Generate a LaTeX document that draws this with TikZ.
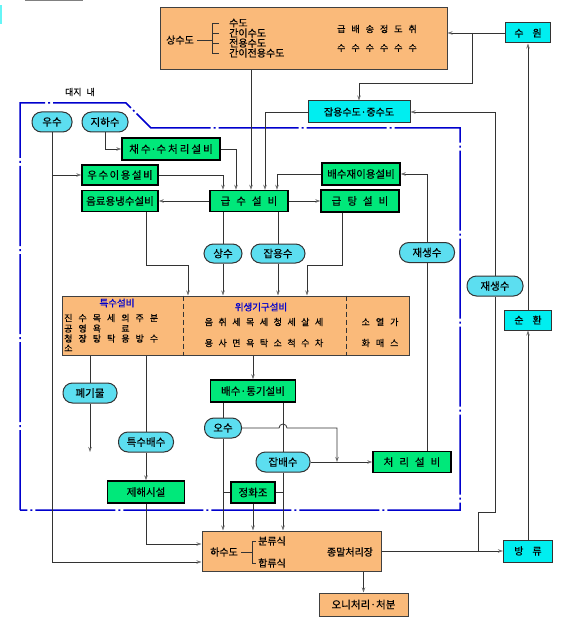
\documentclass[tikz,border=0pt]{standalone}
\usepackage{fontspec}
\usepackage{xcolor}
\usepackage{tikz}
\usetikzlibrary{positioning,arrows.meta}
\newfontfamily\kr[FakeBold=0.4]{Noto Sans CJK KR}
\definecolor{boxorange}{RGB}{250,186,122}
\definecolor{boxgreen}{RGB}{0,232,122}
\definecolor{boxcyan}{RGB}{0,238,240}
\definecolor{pillcyan}{RGB}{92,222,240}
\definecolor{siteblue}{RGB}{0,0,205}
\definecolor{tipgray}{RGB}{110,110,110}
\newcommand\gp[1][6pt]{\hspace{#1}}
\tikzset{
  every node/.style={font=\kr\fontsize{10.5}{12}\selectfont},
  orangebox/.style={draw=black!75,line width=1pt,fill=boxorange,inner sep=0pt},
  greenbox/.style={draw=black,line width=1.4pt,fill=boxgreen,inner sep=0pt,minimum height=21pt},
  cyanbox/.style={draw=black!80,line width=1pt,fill=boxcyan,inner sep=0pt,minimum height=20pt,font=\kr\fontsize{10}{12}\selectfont},
  pill/.style={draw=black!80,line width=1pt,fill=pillcyan,rounded corners=9.5pt,inner sep=0pt,minimum height=20pt},
  itemtext/.style={font=\kr\fontsize{10}{12}\selectfont,inner sep=0pt},
  rowtext/.style={font=\kr\fontsize{9}{10}\selectfont,inner sep=0pt},
  headtext/.style={font=\kr\fontsize{9.5}{11}\selectfont,text=siteblue,inner sep=0pt},
  conn/.style={draw=black!80,line width=0.8pt},
  arr/.style={conn,-{Stealth[length=5pt,width=3.5pt,color=tipgray]}},
  siteline/.style={draw=siteblue,line width=1.5pt,dash pattern=on 80pt off 3pt on 2pt off 3pt},
}
\begin{document}
\begin{tikzpicture}[x=1pt,y=-1pt]
  \useasboundingbox (0,0) rectangle (567,631);
  \fill[boxcyan!60] (0,5) rectangle (2,24);
  \draw[gray,line width=1pt] (25,0.5) -- (83,0.5);
  % site boundary
  \draw[siteline] (20,510) -- (20,103) -- (126,103) -- (151,128) -- (460,128) -- (460,510) -- cycle;
  \node[rowtext] (site) at (80,92) {대지\gp[5pt]내};

  % water supply
  \node[orangebox,minimum width=287pt,minimum height=62pt] (supply) at (303.5,39) {};
  \node[itemtext] (sdn) at (180,40) {상수도};
  \node[itemtext,anchor=west] (sd1) at (229,23) {수도};
  \node[itemtext,anchor=west] (sd2) at (229,33) {간이수도};
  \node[itemtext,anchor=west] (sd3) at (229,43) {전용수도};
  \node[itemtext,anchor=west] (sd4) at (229,53) {간이전용수도};
  \draw[conn] (197,40) -- (212,40) (219,23) -- (212,23) -- (212,53) -- (219,53) (212,33) -- (219,33) (212,43) -- (219,43);
  \node[rowtext] (st1) at (377,29) {급\gp 배\gp 송\gp 정\gp 도\gp 취};
  \node[rowtext] (st2) at (377,48) {수\gp 수\gp 수\gp 수\gp 수\gp 수};

  \node[cyanbox,minimum width=45pt] (src) at (528,33) {수\gp[9pt]원};
  \node[cyanbox,minimum width=102pt,minimum height=22pt] (mid) at (359,112) {잡용수도·중수도};
  \node[cyanbox,minimum width=47pt] (circ) at (528,320) {순\gp[9pt]환};
  \node[cyanbox,minimum width=49pt,minimum height=22pt] (disch) at (528,551) {방\gp[9pt]류};

  \node[pill,minimum width=40pt] (rain) at (52,122) {우수};
  \node[pill,minimum width=46pt] (ground) at (105,122) {지하수};
  \node[greenbox,minimum width=98pt,minimum height=22pt] (intake) at (171,149) {채\gp[2pt]수·수\gp[2pt]처\gp[2pt]리\gp[2pt]설\gp[2pt]비};
  \node[greenbox,minimum width=76pt,minimum height=20pt] (rainuse) at (120,175) {우\gp[1.5pt]수\gp[1.5pt]이\gp[1.5pt]용\gp[1.5pt]설\gp[1.5pt]비};
  \node[greenbox,minimum width=76pt] (cold) at (120,201) {음료용냉수설비};
  \node[greenbox,minimum width=78pt] (feed) at (249,201) {급\gp 수\gp 설\gp 비};
  \node[greenbox,minimum width=78pt,minimum height=22pt] (reuse) at (361,174) {배수재이용설비};
  \node[greenbox,minimum width=78pt,minimum height=22pt] (hot) at (360,201) {급\gp 탕\gp 설\gp 비};

  \node[pill,minimum width=38pt,minimum height=19pt] (pot) at (223,253.5) {상수};
  \node[pill,minimum width=54pt,minimum height=19pt] (grw) at (278,253.5) {잡용수};
  \node[pill,minimum width=55pt] (recA) at (427,252.5) {재생수};
  \node[pill,minimum width=56pt] (recB) at (495,286) {재생수};

  % fixtures
  \node[orangebox,minimum width=347pt,minimum height=59pt] (fix) at (235.5,325.5) {};
  \draw[conn,dash pattern=on 5pt off 3pt] (fix.north -| 183,0) -- (fix.south -| 183,0);
  \draw[conn,dash pattern=on 5pt off 3pt] (fix.north -| 346,0) -- (fix.south -| 346,0);
  \node[headtext] (spec) at (117,303) {특수설비};
  \node[rowtext,anchor=west] (sp1) at (64,318) {진\gp 수\gp 목\gp 세\gp 의\gp 주\gp 분};
  \node[rowtext,anchor=west] (sp2) at (64,328.5) {공\gp 영\gp 욕\gp\phantom{세}\gp 료};
  \node[rowtext,anchor=west] (sp3) at (64,338.5) {청\gp 장\gp 탕\gp 탁\gp 용\gp 방\gp 수};
  \node[rowtext,anchor=west] (sp4) at (64,348) {소};
  \node[headtext] (sani) at (261,307) {위생기구설비};
  \node[rowtext] (sa1) at (264,322) {음\gp[5.5pt]취\gp[5.5pt]세\gp[5.5pt]목\gp[5.5pt]세\gp[5.5pt]청\gp[5.5pt]세\gp[5.5pt]살\gp[5.5pt]세};
  \node[rowtext] (sa2) at (264,343) {용\gp[5.5pt]사\gp[5.5pt]면\gp[5.5pt]욕\gp[5.5pt]탁\gp[5.5pt]소\gp[5.5pt]척\gp[5.5pt]수\gp[5.5pt]차};
  \node[rowtext] (ot1) at (380,322) {소\gp 열\gp 가};
  \node[rowtext] (ot2) at (380,343) {화\gp 매\gp 스};

  % drainage
  \node[pill,minimum width=54pt] (waste) at (90,393) {폐기물};
  \node[pill,minimum width=55pt] (spd) at (146,442) {특수배수};
  \node[greenbox,minimum width=77pt,minimum height=22pt] (purge) at (146,492) {제해시설};
  \node[greenbox,minimum width=85pt,minimum height=22pt] (drain) at (253,391) {배수·통기설비};
  \node[pill,minimum width=37pt] (soil) at (223,428) {오수};
  \node[pill,minimum width=54pt] (misc) at (283,462) {잡배수};
  \node[greenbox,minimum width=44pt] (septic) at (253,492.5) {정화조};
  \node[greenbox,minimum width=78pt] (treat) at (412,462) {처\gp 리\gp 설\gp 비};

  \node[orangebox,minimum width=179pt,minimum height=40pt] (sewer) at (291.5,551) {};
  \node[itemtext] (sw0) at (224,552) {하수도};
  \node[itemtext,anchor=west] (sw1) at (258,541) {분류식};
  \node[itemtext,anchor=west] (sw2) at (258,563) {합류식};
  \node[itemtext] (sw3) at (350,552) {종말처리장};
  \draw[conn] (241,552) -- (252,552) (256,541) -- (252,541) -- (252,563) -- (256,563);
  \node[orangebox,minimum width=89pt,minimum height=23pt] (sludge) at (363.5,604.5) {오니처리·처분};

  % connectors
  \coordinate (j1) at (472,33);
  \draw[arr] (src.west) -- (supply.east |- src.west);
  \draw[arr] (j1) |- (mid.north |- 0,83) -- (mid.north);
  \draw[arr] (supply.south -| 251,0) -- (feed.north -| 251,0);
  \draw[arr] (mid.west) -| (feed.north -| 265,0);
  \draw[arr] (reuse.west) -| (feed.north -| 277,0);
  \draw[arr] (intake.east) -| (feed.north -| 236,0);
  \draw[arr] (rainuse.east) -| (feed.north -| 223,0);
  \draw[arr] (feed.west) -- (cold.east);
  \draw[arr] (feed.east) -- (hot.west);
  \draw[arr] (ground.south) |- (intake.west);
  \draw[arr] (rain.south) |- (sewer.west |- 0,562);
  \draw[arr] (rain.south |- rainuse.west) -- (rainuse.west);

  \draw[conn] (feed.south -| pot.north) -- (pot.north);
  \draw[arr] (pot.south) -- (fix.north -| pot.south);
  \draw[conn] (feed.south -| grw.north) -- (grw.north);
  \draw[arr] (grw.south) -- (fix.north -| grw.south);
  \draw[arr] (cold.south -| 146,0) |- (188,265) -- (fix.north -| 188,0);
  \draw[arr] (hot.south -| 342,0) |- (307,265) -- (fix.north -| 307,0);

  \draw[conn] (treat.north -| recA.south) -- (recA.south);
  \draw[arr] (recA.north) |- (reuse.east);
  \coordinate (j2) at (478,551);
  \draw[conn] (j2) |- (recB.south |- 0,512) -- (recB.south);
  \draw[arr] (recB.north) |- (mid.east);
  \draw[arr] (sewer.east) -- (disch.west);
  \draw[arr] (disch.north) -- (circ.south);
  \draw[arr] (circ.north) -- (src.south);

  \draw[conn] (fix.south -| waste.north) -- (waste.north);
  \coordinate (wend) at (90,452);
  \draw[arr] (waste.south) -- (wend);
  \draw[conn] (fix.south -| spd.north) -- (spd.north);
  \draw[arr] (spd.south) -- (purge.north);
  \draw[arr] (purge.south) |- (sewer.west |- 0,544);
  \draw[arr] (fix.south -| drain.north) -- (drain.north);
  \draw[conn] (drain.south -| soil.north) -- (soil.north);
  \draw[arr] (soil.south) -- (sewer.north -| soil.south);
  \draw[conn] (drain.south -| misc.north) -- (misc.north);
  \draw[arr] (misc.south) -- (sewer.north -| misc.south);
  \draw[conn] (septic.west) -- (septic.west -| soil.south);
  \draw[conn] (septic.east) -- (septic.east -| misc.south);
  \draw[arr] (septic.south) -- (sewer.north -| septic.south);
  \draw[arr] (misc.east) -- (treat.west);
  \coordinate (merge) at (337,462);
  \draw[arr] (soil.east) -- (279,428) arc[start angle=180,end angle=0,radius=4pt] -- (337,428) -- (merge);
  \draw[arr] (sewer.south -| sludge.north) -- (sludge.north);
\end{tikzpicture}
\end{document}
